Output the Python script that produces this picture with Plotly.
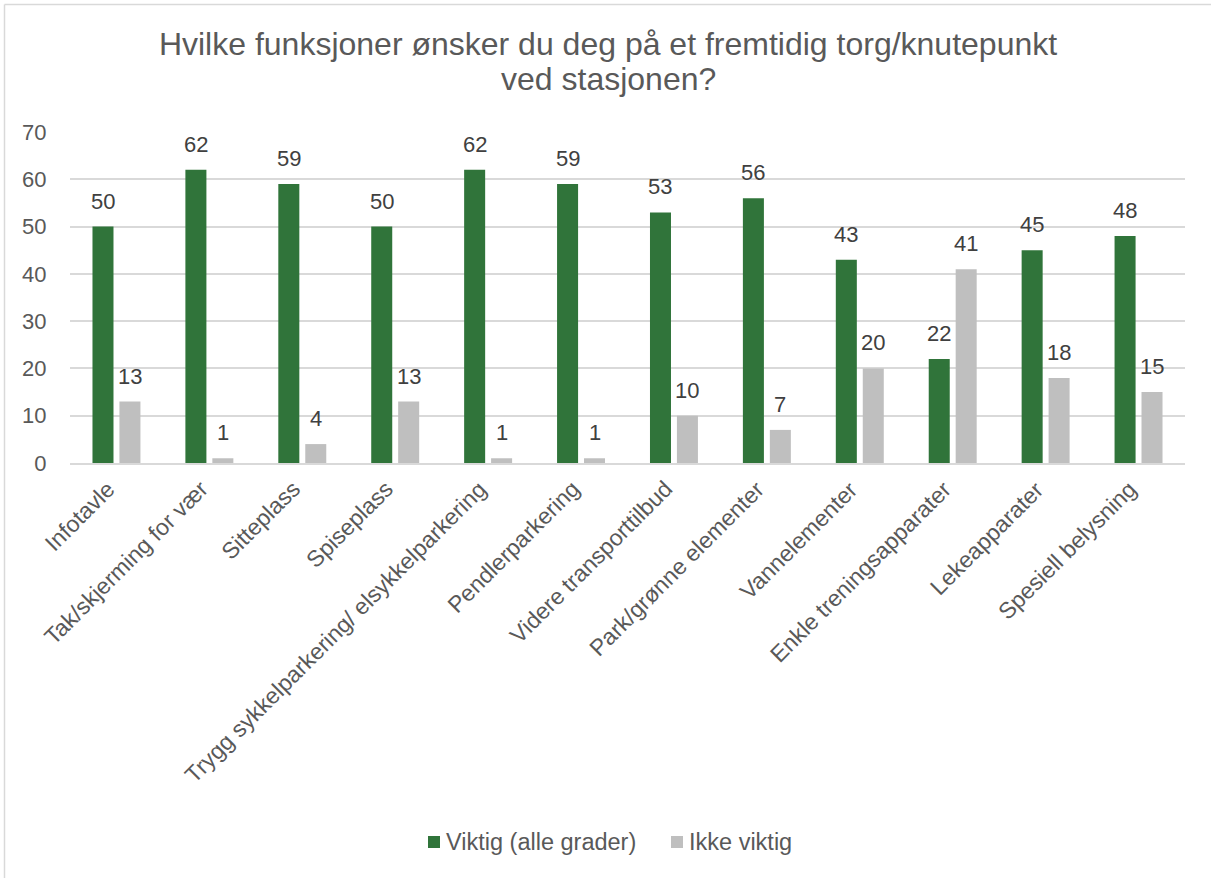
import plotly.graph_objects as go

categories = ["Infotavle", "Tak/skjerming for vær", "Sitteplass", "Spiseplass",
              "Trygg sykkelparkering/ elsykkelparkering", "Pendlerparkering",
              "Videre transporttilbud", "Park/grønne elementer", "Vannelementer",
              "Enkle treningsapparater", "Lekeapparater", "Spesiell belysning"]
viktig = [50, 62, 59, 50, 62, 59, 53, 56, 43, 22, 45, 48]
ikke_viktig = [13, 1, 4, 13, 1, 1, 10, 7, 20, 41, 18, 15]
series_names = ["Viktig (alle grader)", "Ikke viktig"]
series_colors = ["#30743A", "#BFBFBF"]
y_ticks = [0, 10, 20, 30, 40, 50, 60, 70]
title_line1 = "Hvilke funksjoner ønsker du deg på et fremtidig torg/knutepunkt"
title_line2 = "ved stasjonen?"

FONT = "Liberation Sans, Arial, sans-serif"
TXT = "#595959"
LBL = "#404040"

L, R, T, B = 70, 26, 132, 415
W, H = 1211, 878
pw = W - L - R
ph = H - T - B
BARGAP = 0.42
BARGROUPGAP = 0.22
TITLE_CX = 608


def py(pix):
    """page pixel y -> paper y"""
    return (ph - (pix - T)) / ph


def px(pix):
    return (pix - L) / pw


fig = go.Figure()
for name, vals, col in zip(series_names, [viktig, ikke_viktig], series_colors):
    fig.add_trace(go.Bar(name=name, x=categories, y=vals,
                         marker=dict(color=col, line=dict(width=0)),
                         hoverinfo="x+y"))

annotations = []
# title second line
annotations.append(dict(text=title_line2, xref="paper", yref="paper", x=px(TITLE_CX), y=py(79),
                        xanchor="center", yanchor="middle", showarrow=False,
                        font=dict(size=32, color=TXT, family=FONT)))

# data labels above bars
slot = pw / len(categories) * (1 - BARGAP) / 2
for k, vals in enumerate([viktig, ikke_viktig]):
    shift = (k - 0.5) * slot
    for c, v in zip(categories, vals):
        annotations.append(dict(text=str(v), x=c, y=v, xref="x", yref="y",
                                xanchor="center", yanchor="bottom", showarrow=False,
                                xshift=shift, yshift=11,
                                font=dict(size=22, color=LBL, family=FONT)))

# rotated category labels
for c in categories:
    annotations.append(dict(text=c, x=c, y=0, xref="x", yref="y",
                            xanchor="right", yanchor="top", showarrow=False,
                            textangle=-45, xshift=6, yshift=-10,
                            font=dict(size=23, color=TXT, family=FONT)))

# manual legend
legend_items = [(series_names[0], series_colors[0], 428), (series_names[1], series_colors[1], 671)]
shapes = []
for name, col, x0 in legend_items:
    shapes.append(dict(type="rect", xref="paper", yref="paper",
                       x0=px(x0), x1=px(x0 + 12), y0=py(848), y1=py(836),
                       fillcolor=col, line=dict(width=0)))
    annotations.append(dict(text=name, xref="paper", yref="paper", x=px(x0 + 16), y=py(842),
                            xanchor="left", yanchor="middle", showarrow=False,
                            font=dict(size=23.5, color=TXT, family=FONT)))

# outer chart border (top and left visible)
shapes.append(dict(type="line", xref="paper", yref="paper",
                   x0=px(4.5), x1=px(4.5), y0=py(4.5), y1=py(H),
                   line=dict(color="#D9D9D9", width=1.5)))
shapes.append(dict(type="line", xref="paper", yref="paper",
                   x0=px(4.5), x1=px(W), y0=py(4.5), y1=py(4.5),
                   line=dict(color="#D9D9D9", width=1.5)))

fig.update_layout(
    width=W, height=H,
    margin=dict(l=L, r=R, t=T, b=B),
    paper_bgcolor="white", plot_bgcolor="white",
    font=dict(family=FONT, color=TXT),
    title=dict(text=title_line1, x=TITLE_CX / W, xanchor="center", y=1 - 44 / H, yanchor="middle",
               font=dict(size=32, color=TXT, family=FONT)),
    annotations=annotations,
    shapes=shapes,
    barmode="group", bargap=BARGAP, bargroupgap=BARGROUPGAP,
    showlegend=False,
    xaxis=dict(range=[-0.5, len(categories) - 0.5], autorange=False,
               showticklabels=False, showgrid=False, showline=True,
               linecolor="#D9D9D9", linewidth=1.5, ticks=""),
    yaxis=dict(range=[0, 70], autorange=False, tickvals=y_ticks,
               tickfont=dict(size=22, color=TXT, family=FONT),
               showgrid=True, gridcolor="#D9D9D9", gridwidth=1.5, zeroline=False,
               showline=False, ticks="outside", ticklen=18, tickcolor="rgba(0,0,0,0)"),
)

fig.write_html("out.html", config={"displayModeBar": False},
               post_script="document.body.style.margin='0';")
